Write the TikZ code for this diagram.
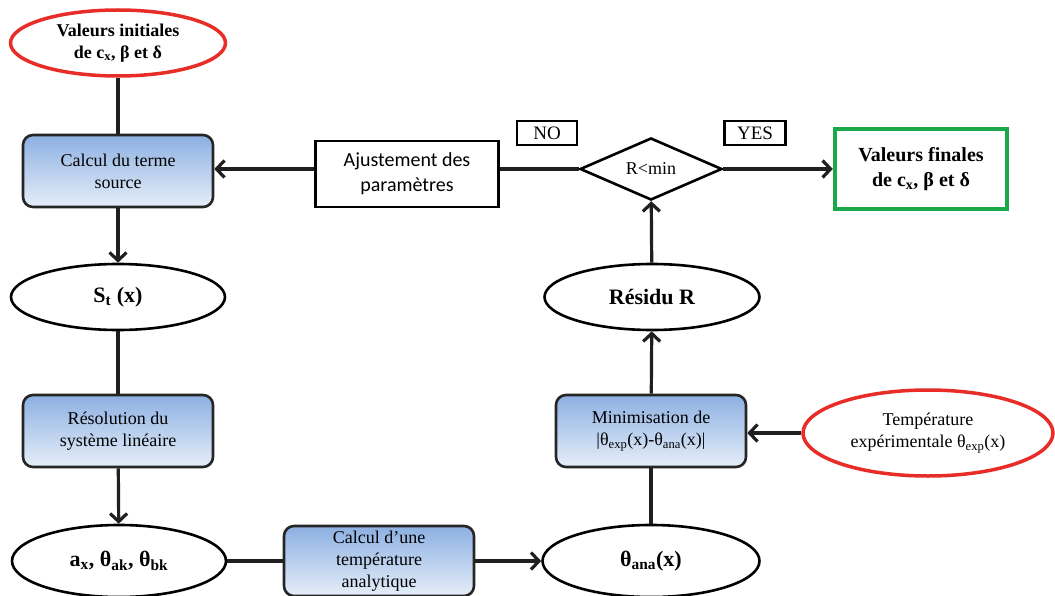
\documentclass[tikz,border=0pt]{standalone}
\usepackage{fontspec}
\setmainfont{Liberation Serif}
\newfontfamily\calibrifont{Carlito}
\usetikzlibrary{shapes.geometric,arrows.meta}
\definecolor{boxtop}{RGB}{140,176,226}
\definecolor{boxbot}{RGB}{230,238,249}
\definecolor{ovred}{RGB}{232,45,40}
\definecolor{fingreen}{RGB}{26,168,74}
\newcommand\sbs[1]{\textsubscript{#1}}
\tikzset{
  every node/.style={inner sep=0pt, align=center},
  bluebox/.style={draw=black!85, line width=2.6pt, rounded corners=10pt, shading=axis, top color=boxtop, bottom color=boxbot, minimum width=190pt, minimum height=72pt, font=\fontsize{18}{22}\selectfont},
  plainoval/.style={ellipse, draw=black, line width=2.6pt, fill=white, minimum width=214pt, minimum height=66pt, font=\fontsize{22}{26}\selectfont\bfseries},
  redoval/.style={ellipse, draw=ovred, line width=3.5pt, fill=white},
  tagbox/.style={draw=black, line width=2.4pt, minimum width=60pt, minimum height=24pt, font=\fontsize{19}{22}\selectfont},
  link/.style={line width=3.2pt, draw=black!88},
  arr/.style={link, -{Straight Barb[length=8pt,width=17pt]}}
}
\begin{document}
\begin{tikzpicture}[x=1pt,y=-1pt]
\useasboundingbox (0,0) rectangle (1055,596);
% nodes
\node[redoval, minimum width=215pt, minimum height=66pt, font=\fontsize{18}{22}\selectfont\bfseries] (vi) at (118,43) {Valeurs initiales\\de c\sbs{x}, β et δ};
\node[bluebox] (cts) at (118,171) {Calcul du terme\\source};
\node[plainoval] (st) at (118,297) {S\sbs{t} (x)};
\node[bluebox] (res) at (118,431) {Résolution du\\système linéaire};
\node[plainoval, minimum height=72pt] (ak) at (119,561) {a\sbs{x}, θ\sbs{ak}, θ\sbs{bk}};
\node[bluebox, minimum height=70pt] (cta) at (379,561) {Calcul d’une\\température\\analytique};
\node[plainoval, minimum width=217pt, minimum height=72pt] (tana) at (651,561) {θ\sbs{ana}(x)};
\node[bluebox] (mini) at (651,431) {Minimisation de\\|θ\sbs{exp}(x)-θ\sbs{ana}(x)|};
\node[redoval, minimum width=250pt, minimum height=86pt, font=\fontsize{18}{22}\selectfont] (texp) at (928,433) {Température\\expérimentale θ\sbs{exp}(x)};
\node[plainoval, minimum width=215pt] (resid) at (652,297) {Résidu R};
\node[diamond, draw=black, line width=2.6pt, fill=white, minimum width=142pt, minimum height=60pt, font=\fontsize{18}{22}\selectfont] (dia) at (651,169) {R<min};
\node[draw=black, line width=2.4pt, minimum width=183pt, minimum height=66pt, font=\calibrifont\fontsize{20}{25}\selectfont] (aju) at (407,174) {Ajustement des\\paramètres};
\node[tagbox] (no) at (547,133) {NO};
\node[tagbox, minimum width=61pt] (yes) at (755,133) {YES};
\node[draw=fingreen, line width=4.5pt, minimum width=172pt, minimum height=80pt, font=\fontsize{20}{25}\selectfont\bfseries] (vf) at (921,169) {Valeurs finales\\de c\sbs{x}, β et δ};
% connectors
\draw[link] (vi) -- (cts);
\draw[arr] (cts) -- (st);
\draw[link] (st) -- (res);
\draw[arr] (res) -- (ak);
\draw[link] (ak) -- (cta);
\draw[arr] (cta) -- (tana);
\draw[link] (tana) -- (mini);
\draw[arr] (texp.west) -- (mini.east |- texp.west);
\draw[arr] (mini) -- (resid);
\draw[arr] (resid) -- (dia);
\draw[link] (dia.west) -- (aju.east |- dia.west);
\draw[arr] (aju.west |- dia.west) -- (cts.east |- dia.west);
\draw[arr] (dia.east) -- (vf.west |- dia.east);
\end{tikzpicture}
\end{document}
